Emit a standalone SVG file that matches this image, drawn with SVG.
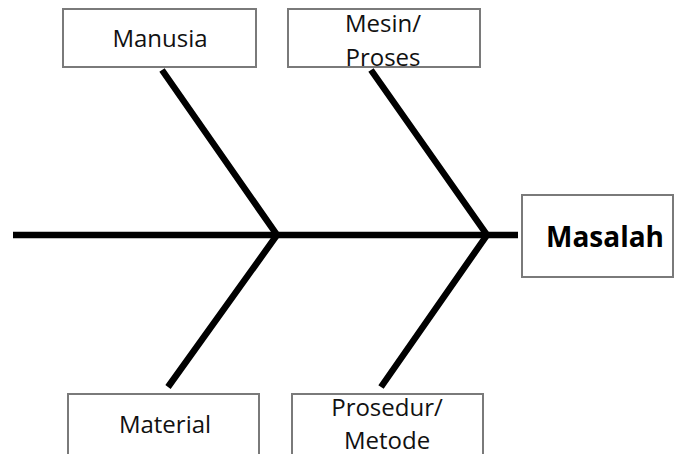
<svg xmlns="http://www.w3.org/2000/svg" width="680" height="454" viewBox="0 0 680 454">
  <style>
    .box { fill: #fff; stroke: #7a7a7a; stroke-width: 2; }
    .lbl { font-family: "Open Sans", "Noto Sans", "Liberation Sans", sans-serif; font-size: 24px; fill: #111; text-anchor: middle; }
    .head { font-family: "Open Sans", "Noto Sans", "Liberation Sans", sans-serif; font-size: 28px; font-weight: bold; fill: #000; text-anchor: middle; }
    .bone { stroke: #000; stroke-width: 6.5; fill: none; stroke-linecap: butt; stroke-linejoin: miter; }
  </style>
  <rect width="680" height="454" fill="#fff"/>

  <!-- spine and bones -->
  <g id="connectors">
    <line class="bone" x1="13" y1="235" x2="518" y2="235"/>
    <polyline class="bone" points="162,70 277,235 168,387"/>
    <polyline class="bone" points="371,70 487,235 381,387"/>
  </g>

  <g id="manusia">
    <rect class="box" x="63" y="9" width="193" height="58"/>
    <text class="lbl" x="160" y="47">Manusia</text>
  </g>

  <g id="mesin">
    <rect class="box" x="288" y="9" width="192" height="58"/>
    <text class="lbl" x="383" y="32">Mesin/</text>
    <text class="lbl" x="383" y="66">Proses</text>
  </g>

  <g id="masalah">
    <rect class="box" x="522" y="195" width="151" height="82"/>
    <text class="head" x="605" y="247">Masalah</text>
  </g>

  <g id="material">
    <rect class="box" x="68" y="394" width="191" height="70"/>
    <text class="lbl" x="165" y="433">Material</text>
  </g>

  <g id="prosedur">
    <rect class="box" x="292" y="394" width="191" height="70"/>
    <text class="lbl" x="387" y="416">Prosedur/</text>
    <text class="lbl" x="387" y="449">Metode</text>
  </g>
</svg>
